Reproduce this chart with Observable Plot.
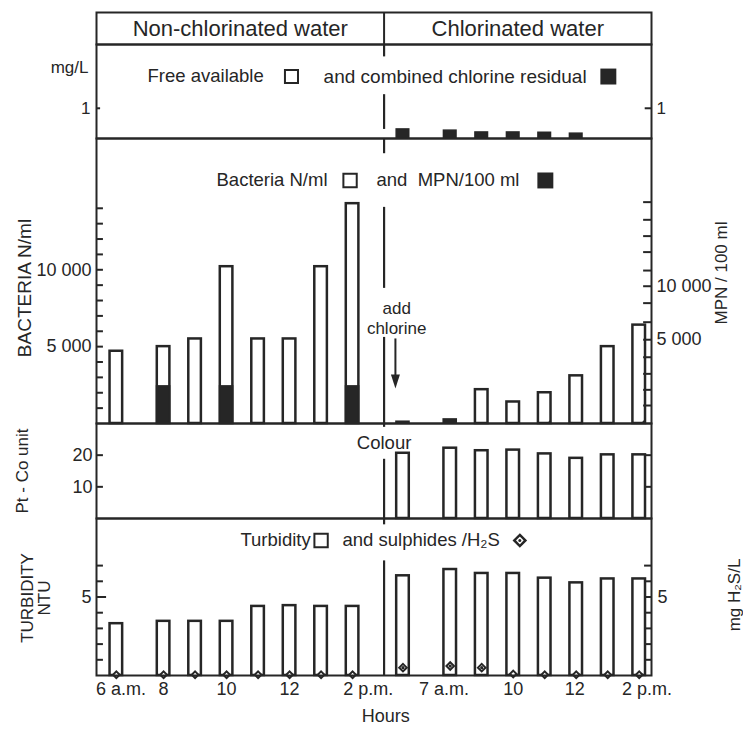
<!DOCTYPE html>
<html><head><meta charset="utf-8">
<script src="https://cdn.jsdelivr.net/npm/d3@7"></script>
<script src="https://cdn.jsdelivr.net/npm/@observablehq/plot@0.6"></script>
<style>
html,body{margin:0;padding:0;background:#fff;overflow:hidden}
#chart{position:relative;width:743px;height:731px;}
#chart svg{position:absolute;left:0;}
</style></head><body><div id="chart"></div>
<script>
// ---------- data ----------
// bar slots (sampling order along the time axis; left = non-chlorinated, right = chlorinated)
const slots = [0.5, 2, 3, 4, 5, 6, 7, 8, 9.6, 11.1, 12.1, 13.1, 14.1, 15.1, 16.1, 17.1];
const sections = ["Non-chlorinated water", "Chlorinated water"];
const chlorineSlots = [9.6, 11.1, 12.1, 13.1, 14.1, 15.1];
const chlorineCombined = [0.3, 0.26, 0.2, 0.2, 0.19, 0.16];          // mg/L
const bacteriaN = [4700, 5000, 5500, 10200, 5500, 5500, 10200, 14300,
                   0, 0, 2200, 1400, 2000, 3100, 5000, 6400];       // N/ml
const mpn = [0, 2400, 0, 2400, 0, 0, 0, 2400,
             100, 250, 0, 0, 0, 0, 0, 0];                           // MPN/100 ml
const mpnCorner = [0, 0, 0, 0, 0, 0, 0, 0, 0, 0, 0, 0, 1, 0, 0, 2]; // small MPN wedge at bar foot
const colourSlots = [9.6, 11.1, 12.1, 13.1, 14.1, 15.1, 16.1, 17.1];
const colour = [20.6, 22.2, 21.4, 21.6, 20.4, 19.0, 20.1, 20.1];    // Pt-Co unit
const turbidity = [3.3, 3.45, 3.45, 3.45, 4.4, 4.45, 4.4, 4.4,
                   6.35, 6.75, 6.5, 6.5, 6.2, 5.9, 6.15, 6.15];     // NTU
const sulphide = [0.05, 0.05, 0.05, 0.05, 0.05, 0.05, 0.05, 0.05,
                  0.5, 0.6, 0.5, 0.1, 0.05, 0.05, 0.05, 0.05];      // mg H2S/L
const sulphideDot = [0,0,0,0,0,0,0,0, 1,1,1,0,0,0,0,0];
const hourLabels = ["6 a.m.", "8", "10", "12", "2 p.m.", "7 a.m.", "10", "12", "2 p.m."];
const hourSlots = [0.65, 2, 4, 6, 8.5, 10.9, 13.1, 15.05, 17.35];
const bactTicks = [1000,2000,3000,4000,5000,6000,7000,8000,9000,10000,11000,12000,13000,14000];
const bactTickLabeled = [5000, 10000];
const bactTickLabels = ["5 000", "10 000"];
const mpnTickAt = [1170, 2190, 3230, 4310, 5450, 6590, 7830, 8930, 9950, 11150, 12190, 13250, 14400];
const mpnTickLabeledAt = [5450, 8930];
const mpnTickLabels = ["5 000", "10 000"];
const colourTicks = [10, 20];
const colourTickLabels = ["10", "20"];
const turbTicks = [1, 2, 3, 4, 5, 6, 7];
const annotation = ["add", "chlorine"];
const annotationAt = [7480, 6180];

// ---------- layout ----------
const W = 743, ML = 96, MR = 92;
const XD = [-0.13, 17.49];
const DIV = 9, BW = 0.2, TK = 0.22;
const INK = "#262626";
const FONT = "'Liberation Sans', Arial, Helvetica, sans-serif";
const FS = 18.5;
const chart = document.getElementById("chart");

function panel(top, bottom, ydomain, marks, mt = 8, mb = 8) {
  const svg = Plot.plot({
    width: W, height: (bottom - top) + mt + mb,
    marginLeft: ML, marginRight: MR, marginTop: mt, marginBottom: mb,
    x: {domain: XD, axis: null},
    y: {domain: ydomain, axis: null},
    style: {background: "transparent", overflow: "visible", fontFamily: FONT, fontSize: FS + "px", color: INK},
    marks
  });
  svg.style.top = (top - mt) + "px";
  chart.appendChild(svg);
}
const c = (v) => () => v;
const leftTicks = (vals, len = TK) => Plot.ruleY(vals, {y: d => d, x1: c(XD[0]), x2: c(XD[0] + len), stroke: INK, strokeWidth: 2});
const rightTicks = (vals, len = TK) => Plot.ruleY(vals, {y: d => d, x1: c(XD[1] - len), x2: c(XD[1]), stroke: INK, strokeWidth: 2});
const divider = (segs) => Plot.ruleX(segs, {x: c(DIV), y1: d => d[0], y2: d => d[1], stroke: INK, strokeWidth: 2.2});
const frame = () => Plot.frame({stroke: INK, strokeWidth: 2});
const wedge = {draw(ctx, size) { const k = Math.sqrt(size) / 3; ctx.moveTo(0, 0); ctx.lineTo(0, -4 * k); ctx.quadraticCurveTo(-0.5 * k, -0.5 * k, -3.5 * k, 0); ctx.closePath(); }};
const arrowHead = {draw(ctx) { ctx.moveTo(0, 7); ctx.lineTo(-4.5, -7); ctx.lineTo(4.5, -7); ctx.closePath(); }};

// header
panel(12, 44, [0, 1], [
  Plot.text(sections, {x: (d, i) => i === 0 ? (XD[0] + DIV) / 2 : (DIV + XD[1]) / 2, y: c(0.5), fontSize: 22}),
  Plot.ruleX([DIV], {stroke: INK, strokeWidth: 2}),
  frame()
]);

// chlorine residual
const chl = chlorineSlots.map((s, i) => ({s, v: chlorineCombined[i]}));
panel(44, 138, [0, 3.11], [
  Plot.rect(chl, {x1: d => d.s - BW, x2: d => d.s + BW, y1: c(0), y2: "v", fill: INK, stroke: INK, strokeWidth: 1.5}),
  leftTicks([1], 0.13), rightTicks([1], 0.2),
  Plot.text([1], {frameAnchor: "left", y: d => d, text: d => String(d), dx: -6, textAnchor: "end", fontSize: 17}),
  Plot.text([1], {frameAnchor: "right", y: d => d, text: d => String(d), dx: 5, textAnchor: "start", fontSize: 17}),
  Plot.text(["mg/L"], {frameAnchor: "left", y: c(2.36), dx: -8, textAnchor: "end", fontSize: 17}),
  Plot.text(["Free available"], {x: c(1.49), y: c(2.05), textAnchor: "start"}),
  Plot.dot([0], {x: c(6.06), y: c(2.05), symbol: "square2", r: 8.3, stroke: INK, strokeWidth: 2, fill: "white"}),
  Plot.text(["and combined chlorine residual"], {x: c(7.08), y: c(2.05), textAnchor: "start", fontSize: 19}),
  Plot.dot([0], {x: c(16.12), y: c(2.05), symbol: "square", r: 9, fill: INK}),
  divider([[2.7, 3.11], [0.3, 1.45]]),
  frame()
]);

// bacteria
const bact = slots.map((s, i) => ({s, n: bacteriaN[i], m: mpn[i], w: mpnCorner[i]}));
panel(138, 423, [0, 18540], [
  Plot.rect(bact.filter(d => d.n > 0), {x1: d => d.s - BW, x2: d => d.s + BW, y1: c(0), y2: "n", fill: "white", stroke: INK, strokeWidth: 2.5}),
  Plot.rect(bact.filter(d => d.m > 0), {x1: d => d.s - BW, x2: d => d.s + BW, y1: c(0), y2: "m", fill: INK, stroke: INK, strokeWidth: 2}),
  Plot.dot(bact.filter(d => d.w > 0), {x: d => d.s + BW, y: c(0), r: d => 4 + 3 * d.w, symbol: wedge, fill: INK, stroke: "none"}),
  leftTicks(bactTicks), rightTicks(mpnTickAt, 0.25),
  Plot.text(bactTickLabeled, {frameAnchor: "left", y: d => d, text: (d, i) => bactTickLabels[i], dx: -5, textAnchor: "end", fontSize: 18}),
  Plot.text(mpnTickLabeledAt, {frameAnchor: "right", y: d => d, text: (d, i) => mpnTickLabels[i], dx: 5, textAnchor: "start", fontSize: 18}),
  Plot.text(["BACTERIA N/ml"], {frameAnchor: "left", textAnchor: "middle", dx: -72, dy: 7, rotate: -90, fontSize: 19}),
  Plot.text(["MPN / 100 ml"], {frameAnchor: "right", textAnchor: "middle", dx: 70, dy: -8, rotate: -90, fontSize: 17}),
  Plot.text(["Bacteria N/ml"], {x: c(3.68), y: c(15810), textAnchor: "start"}),
  Plot.dot([0], {x: c(7.92), y: c(15810), symbol: "square2", r: 8.5, stroke: INK, strokeWidth: 2, fill: "white"}),
  Plot.text(["and  MPN/100 ml"], {x: c(8.76), y: c(15810), textAnchor: "start"}),
  Plot.dot([0], {x: c(14.12), y: c(15810), symbol: "square", r: 9, fill: INK}),
  Plot.text(annotation, {x: c(9.4), y: (d, i) => annotationAt[i], fontSize: 17}),
  Plot.ruleX([0], {x: c(9.36), y1: c(5500), y2: c(2950), stroke: INK, strokeWidth: 2}),
  Plot.dot([0], {x: c(9.36), y: c(2730), symbol: arrowHead, fill: INK, stroke: "none"}),
  divider([[17550, 18540], [8790, 14060], [-250, 5600]]),
  frame()
]);

// colour
const col = colourSlots.map((s, i) => ({s, v: colour[i]}));
panel(423, 518, [0, 30], [
  Plot.rect(col, {x1: d => d.s - BW, x2: d => d.s + BW, y1: c(0), y2: "v", fill: "white", stroke: INK, strokeWidth: 2.5}),
  leftTicks(colourTicks), rightTicks(colourTicks, 0.18),
  Plot.text(colourTicks, {frameAnchor: "left", y: d => d, text: (d, i) => colourTickLabels[i], dx: -4, textAnchor: "end", fontSize: 18}),
  Plot.text(["Pt - Co unit"], {frameAnchor: "left", textAnchor: "middle", dx: -74, rotate: -90, fontSize: 17}),
  Plot.text(["Colour"], {x: c(DIV), y: c(23.7)}),
  divider([[-2, 18.7]]),
  frame()
]);

// turbidity & sulphides
const turb = slots.map((s, i) => ({s, t: turbidity[i], h: sulphide[i], dot: sulphideDot[i]}));
panel(518, 675, [0, 10], [
  Plot.rect(turb, {x1: d => d.s - BW, x2: d => d.s + BW, y1: c(0), y2: "t", fill: "white", stroke: INK, strokeWidth: 2.5}),
  Plot.dot(turb, {x: "s", y: "h", symbol: "diamond2", r: d => d.dot ? 5.2 : 4, stroke: INK, strokeWidth: 2, fill: "white"}),
  Plot.dot(turb.filter(d => d.dot), {x: "s", y: "h", r: 1.6, fill: INK}),
  leftTicks(turbTicks.filter(d => d !== 5)), leftTicks([5], 0.32), rightTicks(turbTicks, 0.22),
  Plot.text([5], {frameAnchor: "left", y: d => d, text: d => String(d), dx: -5, textAnchor: "end", fontSize: 18}),
  Plot.text([5], {frameAnchor: "right", y: d => d, text: d => String(d), dx: 6, textAnchor: "start", fontSize: 18}),
  Plot.text(["TURBIDITY\nNTU"], {frameAnchor: "left", textAnchor: "middle", dx: -60, dy: 1, rotate: -90, fontSize: 17, lineHeight: 1}),
  Plot.text(["mg H\u2082S/L"], {frameAnchor: "right", textAnchor: "middle", dx: 83, dy: -2, rotate: -90, fontSize: 17}),
  Plot.text(["Turbidity"], {x: c(4.44), y: c(8.6), textAnchor: "start"}),
  Plot.dot([0], {x: c(7.0), y: c(8.6), symbol: "square2", r: 8.5, stroke: INK, strokeWidth: 2, fill: "white"}),
  Plot.text(["and sulphides /H\u2082S"], {x: c(7.68), y: c(8.6), textAnchor: "start"}),
  Plot.dot([0], {x: c(13.31), y: c(8.6), symbol: "diamond2", r: 5, stroke: INK, strokeWidth: 2.5, fill: "white"}),
  Plot.dot([0], {x: c(13.31), y: c(8.6), r: 1.5, fill: INK}),
  divider([[0, 7.3]]),
  Plot.text(hourLabels, {x: (d, i) => hourSlots[i], frameAnchor: "bottom", dy: 19.5, fontSize: 18}),
  Plot.text(["Hours"], {x: c(DIV + 0.05), frameAnchor: "bottom", dy: 46, fontSize: 18}),
  frame()
], 8, 56);
</script></body></html>
